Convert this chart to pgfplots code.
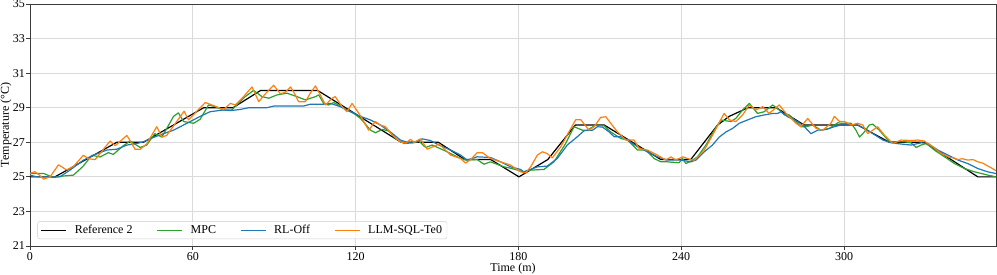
\documentclass[border=0pt]{standalone}
\usepackage{fontspec}
\setmainfont{Liberation Serif}
\usepackage{pgfplots}
\pgfplotsset{compat=1.18}
\definecolor{tabgreen}{HTML}{2CA02C}
\definecolor{tabblue}{HTML}{1F77B4}
\definecolor{taborange}{HTML}{FF7F0E}
\definecolor{gridc}{RGB}{218,218,218}
\definecolor{framec}{RGB}{60,60,60}
\begin{document}
\fontsize{12bp}{14bp}\selectfont
\begin{tikzpicture}
\begin{axis}[
  scale only axis,
  width=966bp, height=242bp,
  xmin=0, xmax=356, ymin=21, ymax=35,
  xtick={0,60,120,180,240,300},
  ytick={21,23,25,27,29,31,33,35},
  /pgf/number format/assume math mode=true,
  font=\fontsize{12bp}{14bp}\selectfont,
  tick align=outside, tick pos=left,
  major tick length=3.5bp,
  every tick/.style={framec, line width=0.8bp},
  axis line style={framec, line width=0.8bp},
  grid=major,
  major grid style={gridc, line width=0.8bp},
  xticklabel style={yshift=1.5bp},
  yticklabel style={xshift=2.5bp},
  xlabel={Time (m)},
  ylabel={Temperature (°C)},
  x label style={at={(axis description cs:0.5,-0.0945)}, anchor=center},
  y label style={at={(axis description cs:-0.0248,0.5)}, anchor=center},
  legend columns=4,
  legend cell align=left,
  legend style={at={(axis description cs:0,0)}, anchor=south west, xshift=7.5bp, yshift=7bp,
    draw={rgb,255:red,204;green,204;blue,204}, rounded corners=2bp, fill=white, fill opacity=0.8, text opacity=1,
    inner xsep=3bp, inner ysep=1.5bp,
    font=\fontsize{12bp}{14bp}\selectfont,
    /tikz/every even column/.append style={column sep=22bp},
    /tikz/every odd column/.append style={column sep=6bp}},
  legend image code/.code={\draw[#1] (0bp,0bp) -- (25bp,0bp);},
  every axis plot/.append style={line width=1.2bp, line join=round},
]
\addplot[black] coordinates {
(0,25) (9.2,25) (32,27) (41.8,27) (64,29) (74.8,29) (85,30) (106,30) (136.8,27) (150.5,27)
(160.3,26) (169.8,26) (180.2,25) (190.8,26) (201,28) (211.6,28) (232.5,26) (243.5,26)
(253.4,28) (257.7,28.5) (264.6,29) (275,29) (285.3,28) (305,28) (316.7,27) (329.6,27)
(349.3,25) (356,25)
};
\addlegendentry{Reference 2}
\addplot[tabgreen] coordinates {
(0,25.2) (2.5,25.2) (5,25.2) (8.6,24.96) (12.3,25.05) (16,25.1) (19.5,25.6) (22.8,26.25)
(25.8,26.15) (28.9,26.4) (30.7,26.3) (34.4,26.8) (36.9,27.07) (40.6,26.7) (43,26.84)
(46,27.5) (48.6,27.3) (52.9,28.5) (54.7,28.7) (56.6,28.2) (60.3,28.1) (62.7,28.33)
(65.8,29.16) (68.3,29.06) (71.3,28.87) (74.4,28.87) (79.3,29.64) (82.4,30.0) (85.5,29.64)
(88,29.55) (91,29.74) (94.7,29.84) (98.4,29.64) (101.5,29.45) (105.2,29.64) (106.4,29.74)
(108.2,29.25) (110,29.16) (111.9,29.3) (114.4,29.1) (116.8,28.87) (119.3,28.67) (121.8,28.38)
(125.5,27.7) (127.3,27.55) (129.8,27.75) (132.2,27.65) (134.7,27.22) (137.8,26.93)
(141.5,26.97) (143.3,27.07) (145.8,26.7) (148.2,26.84) (153.1,26.5) (157.4,26.16)
(160.5,25.97) (164.8,26.0) (167.3,25.73) (169.7,25.87) (174.7,25.58) (177.1,25.5)
(182,25.29) (184.5,25.39) (189.4,25.43) (193.1,25.87) (197.4,26.93) (200.5,27.9)
(203.6,27.7) (205.4,27.7) (208.5,28.0) (211.6,27.95) (214,27.6) (217.7,27.22) (220.2,27.13)
(223.9,26.55) (227,26.55) (230,26.06) (232.5,25.87) (235,25.87) (236.2,25.85) (239.2,25.82)
(240.5,26.06) (241.7,25.77) (243.5,25.9) (246,26.16) (249.1,26.84) (252.2,27.7) (254.6,28.29)
(258.3,28.2) (260.1,28.38) (262.6,28.87) (265.1,29.25) (268.1,28.67) (270.6,28.77)
(273.7,29.16) (276.1,28.87) (278,28.58) (279.8,28.58) (281.7,28.3) (284.1,27.9) (286,27.9)
(288.4,28.0) (291.5,27.7) (294.6,27.8) (297.7,28.13) (299,28.1) (302.6,28.1) (304.4,27.7)
(305.7,27.3) (307.5,27.6) (309.3,28.0) (310.6,28.05) (313,27.7) (316.7,27.03) (322.3,27.03)
(324.7,26.97) (326.6,26.7) (328.4,26.84) (330.3,26.93) (333.3,26.55) (337,26.16)
(340.7,25.77) (344.4,25.48) (348.1,25.29) (353,25.1) (356,25.0)
};
\addlegendentry{MPC}
\addplot[tabblue] coordinates {
(0,25.1) (2.5,25.0) (11,25.0) (14.8,25.4) (19.7,25.97) (23.4,26.26) (28.3,26.55) (32,26.6)
(35.7,26.84) (39.4,26.93) (41.8,27.03) (45.5,27.28) (49.2,27.5) (52.9,27.7) (56.6,28.0)
(60.3,28.3) (62.7,28.5) (66.4,28.77) (71.3,28.87) (73.8,28.83) (77.5,28.9) (80.6,29.0)
(87.3,29.0) (90,29.1) (100.9,29.1) (103.3,29.2) (108.2,29.2) (110.7,29.25) (114.4,29.06)
(118.1,28.77) (121.8,28.5) (125.5,28.29) (129.1,28.0) (132.8,27.6) (136.5,27.13) (139,27.0)
(142.7,27.03) (144.5,27.2) (147.6,27.1) (150.7,26.84) (155,26.55) (158.7,26.26) (161.1,25.97)
(164.8,26.16) (169.7,26.12) (173.4,25.87) (177.1,25.58) (180.8,25.43) (182,25.29) (187,25.58)
(190.6,25.62) (194.3,26.06) (198,26.84) (201.7,27.32) (204.2,27.67) (207.3,27.7) (209.1,27.9)
(211,27.88) (213.4,27.6) (215.3,27.32) (217.7,27.32) (220.2,27.13) (223.9,26.74) (227.5,26.45)
(231.2,26.16) (234.9,25.97) (239.8,25.97) (243.5,25.87) (245.4,25.97) (248.5,26.45)
(251.5,26.84) (254,27.3) (256.5,27.6) (258.9,27.8) (261.4,28.1) (264.4,28.29) (267.5,28.48)
(270.6,28.58) (273.7,28.67) (275.5,28.67) (276.8,28.77) (279.2,28.48) (282.9,28.2)
(285.4,27.9) (287.8,27.5) (290.3,27.7) (293.4,27.74) (296.4,27.9) (298.9,28.0) (305,28.0)
(307.5,27.8) (310.6,27.5) (314.3,27.13) (317.3,26.97) (321,26.9) (324.7,26.84) (328.4,26.97)
(330.9,26.93) (334.6,26.55) (338.3,26.26) (342,25.97) (345.6,25.77) (349.3,25.48) (353,25.29)
(356,25.19)
};
\addlegendentry{RL-Off}
\addplot[taborange] coordinates {
(0,25.2) (1.8,25.3) (3.5,25.1) (5,24.87) (7.4,25.0) (10.5,25.7) (13.5,25.4) (16,25.6)
(19.7,26.25) (21.5,26.05) (24,26.0) (29.5,27.07) (31.4,26.8) (35.7,27.4) (38.7,26.6)
(40.6,26.6) (43,26.9) (46.7,27.9) (48.6,27.3) (50.4,27.4) (56.8,28.8) (58.4,28.3) (60.9,28.7)
(64.6,29.3) (67,29.16) (71.3,28.9) (72.5,29.05) (73.8,29.25) (75.6,29.16) (78.7,29.64)
(81.8,30.2) (83,29.8) (84.3,29.35) (86.7,29.8) (89.8,30.3) (92.3,29.8) (94.1,29.9) (96,30.2)
(97.2,29.9) (99,29.35) (101.5,29.35) (103.3,29.84) (105.2,30.26) (107,29.74) (108.9,29.16)
(111.3,29.55) (112.5,29.64) (115,29.06) (116.8,28.77) (118.7,29.25) (121.5,28.6) (123,28.2)
(124.8,27.7) (127.3,28.2) (129,28.0) (131,27.9) (133.5,27.42) (136.5,27.03) (138.4,26.95)
(140.2,27.17) (141.5,27.0) (143.9,27.2) (146.4,26.6) (149.4,26.8) (150.7,26.9) (153.1,26.55)
(155,26.26) (158.7,26.06) (160.5,25.8) (162.4,26.0) (164.8,26.4) (166.7,26.4) (169.7,26.06)
(173.4,25.87) (177.1,25.68) (180.8,25.29) (182.7,25.23) (184.5,25.58) (187,26.26)
(188.8,26.45) (190.6,26.35) (192.5,26.1) (195.6,26.74) (198.6,27.6) (201.1,28.3) (203,28.3)
(206,27.7) (207.9,27.9) (210.3,28.44) (212.2,28.48) (214,28.1) (216.5,27.6) (219.6,27.13)
(222.6,27.13) (224.5,26.64) (227.5,26.55) (231.2,26.26) (234.3,25.97) (236.2,26.16)
(238,25.97) (240.5,26.16) (243.5,26.0) (244.8,25.97) (248.5,26.55) (252.2,27.6) (255.8,28.67)
(257.7,28.3) (260.1,28.2) (262.6,28.58) (265.1,29.16) (267.5,28.87) (270,29.06) (272.4,28.67)
(276.1,29.16) (278.6,28.67) (282.3,28.1) (284.1,27.9) (286.6,28.38) (289.7,27.8) (292.1,27.7)
(295.2,28.1) (296.4,28.5) (298.3,28.2) (300.1,28.2) (302.6,28.0) (305,28.1) (306.9,28.0)
(308.7,27.5) (310.6,27.7) (312.4,27.9) (314.9,27.4) (316.7,27.13) (318,26.93) (321,27.13)
(324.7,27.1) (327.2,27.13) (329.6,27.07) (332.7,26.74) (335.8,26.35) (338.9,26.12)
(340.5,26.1) (341.9,26.0) (343.5,26.05) (345.6,25.97) (347.5,26.0) (349.3,25.87)
(351,25.8) (352.4,25.68) (354.5,25.5) (356,25.35)
};
\addlegendentry{LLM-SQL-Te0}
\end{axis}
\pgfresetboundingbox
\path[use as bounding box] (-30bp,-29bp) rectangle (967bp,246bp);
\end{tikzpicture}
\end{document}
